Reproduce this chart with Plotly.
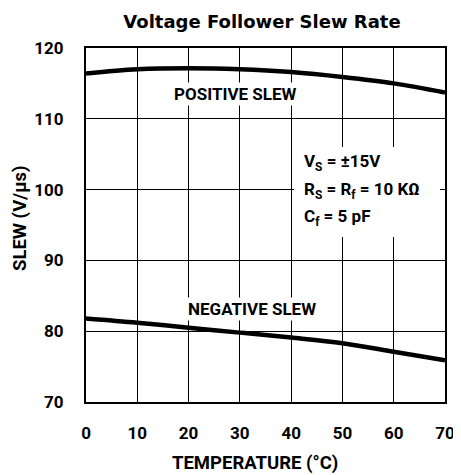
import plotly.graph_objects as go

temp = [0, 10, 20, 30, 40, 50, 60, 70]
pos_slew = [116.4, 117.0, 117.15, 117.0, 116.6, 115.9, 115.0, 113.7]
neg_slew = [81.8, 81.2, 80.5, 79.8, 79.1, 78.3, 77.1, 75.9]
x_ticks = [0, 10, 20, 30, 40, 50, 60, 70]
y_ticks = [70, 80, 90, 100, 110, 120]

OFF = 8  # page body margin
W, H = 461 - OFF, 475 - OFF
L, T = 86 - OFF, 48 - OFF
R = W - (445 - OFF)
B = H - (402 - OFF)
pw, ph = W - L - R, H - T - B

LBL = "Roboto, Liberation Sans, sans-serif"

def px(xp):
    return (xp - OFF - L) / pw

def py(yp):
    return (H - B - (yp - OFF)) / ph

fig = go.Figure()
for ys in (pos_slew, neg_slew):
    fig.add_trace(go.Scatter(x=temp, y=ys, mode="lines",
                             line=dict(color="black", width=4.5, shape="spline"),
                             hoverinfo="skip", showlegend=False))

tick_font = dict(family=LBL, size=17, color="black", weight="bold")
axis_common = dict(showgrid=True, gridcolor="black", gridwidth=1.3,
                   showline=True, linecolor="black", linewidth=2.2, mirror=True,
                   zeroline=False, ticks="", automargin=False, tickfont=tick_font)

fig.update_xaxes(range=[0, 70], tickvals=x_ticks, ticktext=[str(v) for v in x_ticks],
                 ticklabelstandoff=14, **axis_common)
fig.update_yaxes(range=[70, 120], tickvals=y_ticks, ticktext=[str(v) for v in y_ticks],
                 ticklabelstandoff=17, **axis_common)

fig.add_shape(type="rect", xref="paper", yref="paper",
              x0=px(294), x1=px(440), y0=py(237), y1=py(147),
              fillcolor="white", line=dict(width=0), layer="above")

lab_font = dict(family=LBL, size=17, color="black", weight="bold")
title_font = dict(family=LBL, size=18.5, color="black", weight="bold")

def note(x, y, text, font=lab_font, **kw):
    args = dict(xref="paper", yref="paper", x=px(x), y=py(y), text=text,
                showarrow=False, font=font, xanchor="center", yanchor="middle")
    args.update(kw)
    fig.add_annotation(**args)

note(235, 94, "POSITIVE SLEW", bgcolor="white", borderpad=1)
note(252, 309, "NEGATIVE SLEW", bgcolor="white", borderpad=1)

for txt, yy in [("V<sub>S</sub> = ±15V", 162),
                ("R<sub>S</sub> = R<sub>f</sub> = 10 KΩ", 190),
                ("C<sub>f</sub> = 5 pF", 217)]:
    note(302, yy, txt, xanchor="left")

note(255, 463, "TEMPERATURE (°C)", font=title_font)
note(20, 218, "SLEW (V/µs)", font=title_font, textangle=-90)

fig.update_layout(
    width=W, height=H,
    margin=dict(l=L, r=R, t=T, b=B, autoexpand=False),
    paper_bgcolor="white", plot_bgcolor="white",
    title=dict(text="<b>Voltage Follower Slew Rate</b>", x=(262 - OFF) / W, xanchor="center",
               y=1 - (22 - OFF) / H, yanchor="middle", yref="container",
               font=dict(family="DejaVu Sans, sans-serif", size=18, color="black")),
)

fig.write_html("out.html")
